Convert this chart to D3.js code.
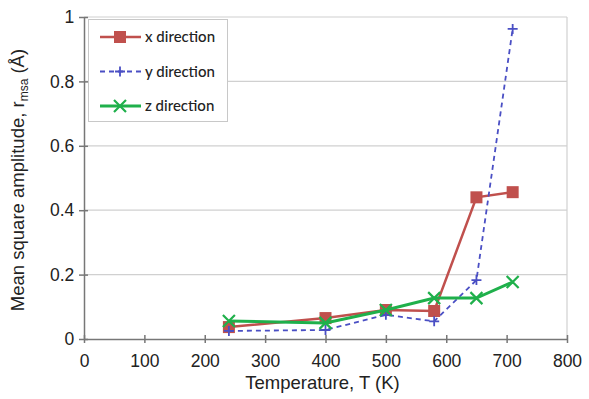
<!DOCTYPE html>
<html>
<head>
<meta charset="utf-8">
<script src="https://cdn.jsdelivr.net/npm/d3@7"></script>
<style>
  body { margin: 0; background: #fff; }
  svg { display: block; }
</style>
</head>
<body>
<div id="chart"></div>
<script>
// temperatures (K) and the three amplitude series
var temps = [240, 400, 500, 580, 650, 710];
var xDir = [0.037, 0.065, 0.09, 0.087, 0.44, 0.456];
var yDir = [0.025, 0.028, 0.075, 0.055, 0.183, 0.963];
var zDir = [0.056, 0.05, 0.09, 0.127, 0.127, 0.177];
var xTicks = [0, 100, 200, 300, 400, 500, 600, 700, 800];
var yTicks = [0, 0.2, 0.4, 0.6, 0.8, 1];
var seriesNames = ["x direction", "y direction", "z direction"];

var W = 589, H = 399;
var margin = { top: 17, right: 22, bottom: 60, left: 84 };

var svg = d3.select("#chart").append("svg")
    .attr("width", W).attr("height", H);

var x = d3.scaleLinear().domain([0, 800]).range([margin.left, W - margin.right]);
var y = d3.scaleLinear().domain([0, 1]).range([H - margin.bottom, margin.top]);

// gridlines
svg.append("g").selectAll("line")
    .data(yTicks.filter(function (d) { return d > 0; }))
    .enter().append("line")
    .attr("x1", x(0)).attr("x2", x(800))
    .attr("y1", function (d) { return y(d); })
    .attr("y2", function (d) { return y(d); })
    .attr("stroke", "#d0d0d0").attr("stroke-width", 1.2);

// right border
svg.append("line")
    .attr("x1", x(800)).attr("x2", x(800))
    .attr("y1", y(1)).attr("y2", y(0))
    .attr("stroke", "#d0d0d0").attr("stroke-width", 1.2);

// axes
var xAxis = d3.axisBottom(x).tickValues(xTicks).tickSize(5).tickSizeOuter(0);
var yAxis = d3.axisLeft(y).tickValues(yTicks).tickSize(5).tickSizeOuter(0)
    .tickFormat(function (d) { return d === 0 || d === 1 ? d : d.toFixed(1); });

var gx = svg.append("g")
    .attr("transform", "translate(0," + y(0) + ")")
    .call(xAxis);
var gy = svg.append("g")
    .attr("transform", "translate(" + x(0) + ",0)")
    .call(yAxis);

[gx, gy].forEach(function (g) {
    g.selectAll(".domain").attr("stroke", "#777").attr("stroke-width", 1.5);
    g.selectAll(".tick line").attr("stroke", "#777").attr("stroke-width", 1.5);
    g.selectAll("text")
        .attr("font-family", "Liberation Sans, Arial, sans-serif")
        .attr("font-size", 17.5).attr("fill", "#222");
});
gx.selectAll(".tick line").attr("y2", 4).attr("y1", -4);
gx.selectAll("text").attr("dy", "1.15em");
gy.selectAll(".tick line").attr("x1", 4);
gy.selectAll("text").attr("dx", "-0.1em");

// axis titles
svg.append("text")
    .attr("x", x(400) - 3).attr("y", 389)
    .attr("text-anchor", "middle")
    .attr("font-family", "Liberation Sans, Arial, sans-serif")
    .attr("font-size", 18.5).attr("fill", "#222")
    .text("Temperature, T (K)");

var yt = svg.append("text")
    .attr("transform", "translate(24," + 180 + ") rotate(-90)")
    .attr("text-anchor", "middle")
    .attr("font-family", "Liberation Sans, Arial, sans-serif")
    .attr("font-size", 18.5).attr("fill", "#222");
yt.append("tspan").text("Mean square amplitude,  r");
yt.append("tspan").attr("font-size", 12).attr("dy", 4).text("msa");
yt.append("tspan").attr("dy", -4).text(" (Å)");

// series
var series = [
    { name: seriesNames[0], vals: xDir, color: "#c0504d", dash: null, width: 2.5, marker: "square" },
    { name: seriesNames[1], vals: yDir, color: "#4a4fc4", dash: "5,4", width: 1.8, marker: "plus" },
    { name: seriesNames[2], vals: zDir, color: "#1fb04b", dash: null, width: 3, marker: "cross" }
];

var line = d3.line()
    .x(function (d) { return x(d[0]); })
    .y(function (d) { return y(d[1]); });

function drawMarker(g, type, cx, cy, color) {
    if (type === "square") {
        g.append("rect")
            .attr("x", cx - 6).attr("y", cy - 6)
            .attr("width", 12).attr("height", 12)
            .attr("fill", color);
    } else if (type === "plus") {
        g.append("path")
            .attr("d", "M" + (cx - 5) + "," + cy + "H" + (cx + 5) + "M" + cx + "," + (cy - 5) + "V" + (cy + 5))
            .attr("stroke", color).attr("stroke-width", 1.8).attr("fill", "none");
    } else {
        g.append("path")
            .attr("d", "M" + (cx - 6) + "," + (cy - 6) + "L" + (cx + 6) + "," + (cy + 6) +
                "M" + (cx - 6) + "," + (cy + 6) + "L" + (cx + 6) + "," + (cy - 6))
            .attr("stroke", color).attr("stroke-width", 2.2).attr("fill", "none");
    }
}

series.forEach(function (s) {
    var pts = temps.map(function (t, i) { return [t, s.vals[i]]; });
    var g = svg.append("g");
    g.append("path")
        .attr("d", line(pts))
        .attr("fill", "none")
        .attr("stroke", s.color)
        .attr("stroke-width", s.width)
        .attr("stroke-dasharray", s.dash);
    pts.forEach(function (p) {
        drawMarker(g, s.marker, x(p[0]), y(p[1]), s.color);
    });
});

// legend
var lg = svg.append("g");
lg.append("rect")
    .attr("x", 88.5).attr("y", 19.5)
    .attr("width", 139).attr("height", 102)
    .attr("fill", "#fff").attr("stroke", "#c8c8c8");

series.forEach(function (s, i) {
    var ly = 37 + i * 34.5;
    lg.append("line")
        .attr("x1", 100).attr("x2", 141)
        .attr("y1", ly).attr("y2", ly)
        .attr("stroke", s.color).attr("stroke-width", s.width)
        .attr("stroke-dasharray", s.dash);
    drawMarker(lg, s.marker, 120, ly, s.color);
    lg.append("text")
        .attr("x", 145).attr("y", ly + 5)
        .attr("font-family", "Lato, Open Sans, sans-serif")
        .attr("font-size", 15).attr("font-weight", 500).attr("fill", "#222")
        .text(s.name);
});
</script>
</body>
</html>
